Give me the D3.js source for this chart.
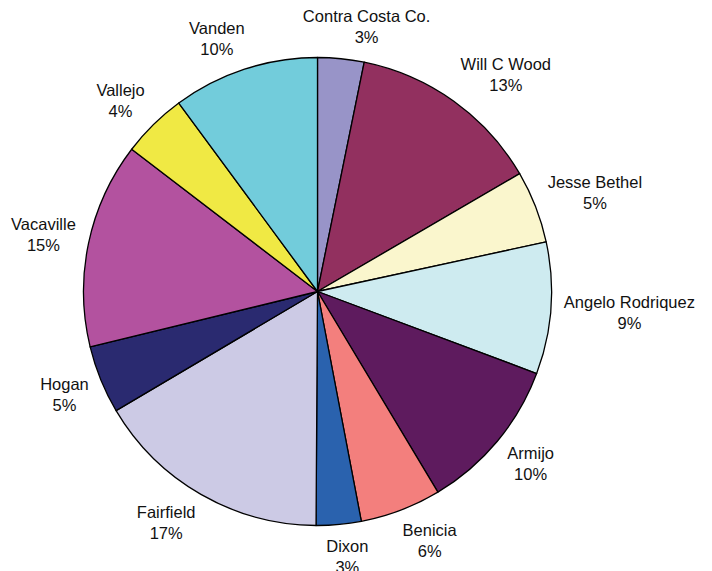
<!DOCTYPE html>
<html>
<head>
<meta charset="utf-8">
<script src="https://cdn.jsdelivr.net/npm/d3@7"></script>
<style>
html,body{margin:0;padding:0;background:#fff;}
svg{display:block;}
text{font-family:"Liberation Sans",Arial,sans-serif;font-size:16.5px;fill:#111;}
</style>
</head>
<body>
<svg id="chart" width="712" height="571"></svg>
<script>
const categories = ["Contra Costa Co.","Will C Wood","Jesse Bethel","Angelo Rodriquez","Armijo","Benicia","Dixon","Fairfield","Hogan","Vacaville","Vallejo","Vanden"];
const values = [3.2,13.4,5.0,9.1,10.7,5.6,3.1,16.4,4.7,14.2,4.5,10.1];
const percentLabels = ["3%","13%","5%","9%","10%","6%","3%","17%","5%","15%","4%","10%"];
const colors = ["#9894C8","#92305F","#FAF6CD","#CEEBF0","#5E1B5E","#F37F7D","#2A62AE","#CCCAE5","#2A2A70","#B3529F","#F0E944","#72CCDB"];

const cx = 317.5, cy = 291.5, R = 234;
const svg = d3.select("#chart");
const g = svg.append("g").attr("transform", `translate(${cx},${cy})`);

const pie = d3.pie().sort(null).value(d => d.v);
const data = pie(categories.map((c,i) => ({c, v: values[i], p: percentLabels[i], col: colors[i]})));
const arc = d3.arc().innerRadius(0).outerRadius(R);

g.selectAll("path.slice").data(data).enter().append("path")
  .attr("class","slice")
  .attr("d", arc)
  .attr("fill", d => d.data.col)
  .attr("stroke", "#000")
  .attr("stroke-width", 1.3)
  .attr("stroke-linejoin","round");

// labels placed outside the pie along each slice's mid-angle
const LR = 247, halfH = 19, lineGap = 21;
const lab = g.selectAll("g.lab").data(data).enter().append("g").attr("class","lab");
lab.each(function(d){
  const el = d3.select(this);
  const t1 = el.append("text").attr("text-anchor","middle").text(d.data.c);
  const t2 = el.append("text").attr("text-anchor","middle").text(d.data.p);
  const w = t1.node().getComputedTextLength();
  const a = (d.startAngle + d.endAngle)/2;
  const s = Math.sin(a), c = Math.cos(a);
  const x = LR*s + (w/2)*Math.tanh(4*s);
  const y = -LR*c - halfH*Math.sign(c)*Math.pow(Math.abs(c),0.7);
  const b1 = y - 4.5;
  t1.attr("x", x).attr("y", b1);
  t2.attr("x", x).attr("y", b1 + lineGap);
});
</script>
</body>
</html>
